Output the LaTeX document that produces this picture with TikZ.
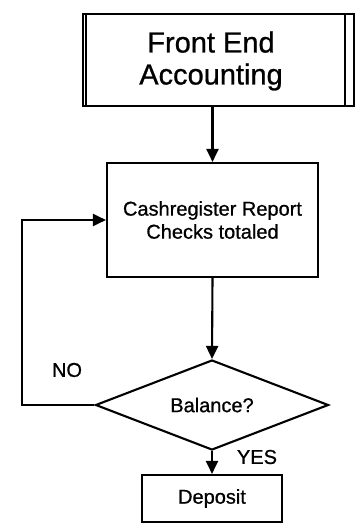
\documentclass[tikz,border=0pt]{standalone}
\usepackage{fontspec}
\setmainfont{Liberation Sans}[FakeBold=0.8]
\usetikzlibrary{arrows.meta,shapes.geometric}
\tikzset{
  line/.style={line width=2.1pt},
  arr/.style={line, -{Triangle[length=13pt,width=12pt]}},
  boxnode/.style={draw, line width=2.1pt, inner sep=0pt, align=center},
  small/.style={font=\fontsize{20}{23}\selectfont},
  big/.style={font=\fontsize{29}{32}\selectfont},
}
\begin{document}
\begin{tikzpicture}[x=1pt,y=-1pt]
\useasboundingbox (0,0) rectangle (360,529);
% top predefined-process box
\node[boxnode, minimum width=271pt, minimum height=92pt] (top) at (218.5,60) {};
\node[big, align=center] (toptext) at (211,61) {Front End\\Accounting};
\draw[line] ([xshift=-10pt]top.north east) -- ([xshift=-10pt]top.south east);
\draw[line] ([xshift=4pt]top.north west) -- ([xshift=4pt]top.south west);
% process box
\node[boxnode, small, minimum width=211pt, minimum height=114pt] (proc) at (212.5,220) {Cashregister Report\\Checks totaled};
% decision
\node[draw, line, diamond, aspect=2.59, inner sep=0pt, minimum width=233pt, minimum height=90pt, small] (dec) at (212,405) {Balance?};
% deposit
\node[boxnode, small, minimum width=140pt, minimum height=47pt] (dep) at (212,498.5) {Deposit};
% connectors
\draw[arr] (proc.north |- top.south) -- (proc.north);
\draw[arr] (proc.south) -- (dec.north);
\draw[arr] (dec.south) -- (dep.north);
\coordinate (loopc) at (22,405);
\draw[arr] (dec.west) -- (loopc) |- (proc.west);
% labels
\node[small] (no) at (67,370) {NO};
\node[small] (yes) at (257,457) {YES};
\end{tikzpicture}
\end{document}
